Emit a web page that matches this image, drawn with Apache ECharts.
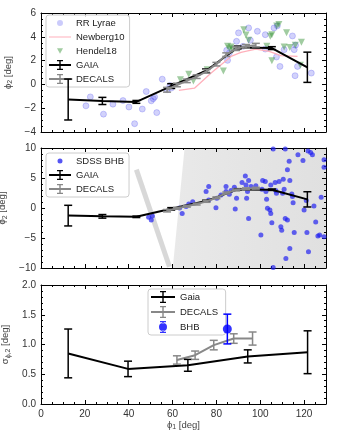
<!DOCTYPE html>
<html>
<head>
<meta charset="utf-8">
<script src="https://cdn.jsdelivr.net/npm/echarts@6/dist/echarts.min.js"></script>
<style>
  html, body { margin: 0; padding: 0; background: #fff; }
  #chart { width: 337px; height: 438px; }
</style>
</head>
<body>
<div id="chart"></div>
<script>
// ---- stream track (panels 1 and 2) ----
const gaiaPhi1 = [12.4, 28.0, 43.5, 59.4, 75.3, 89.7, 105.3, 121.5];
const gaiaPhi2 = [-1.27, -1.39, -1.47, -0.14, 1.15, 3.1, 3.05, 1.44];
const gaiaErr = [1.72, 0.3, 0.12, 0.2, 0.15, 0.12, 0.12, 1.27];

const decalsPhi1 = [57.5, 62, 66.5, 71, 75.5, 80, 84.5, 89, 93.5, 98];
const decalsPhi2 = [-0.45, -0.05, 0.3, 0.65, 1.1, 1.7, 2.5, 3.0, 3.2, 3.3];
const decalsErr = [0.2, 0.15, 0.15, 0.15, 0.15, 0.15, 0.15, 0.15, 0.15, 0.15];

const newbergPhi1 = [62.9, 70, 77.6, 86.7, 91.2, 98, 104.1, 109.4, 117];
const newbergPhi2 = [-0.51, -0.32, 0.95, 2.35, 2.69, 2.97, 2.78, 2.41, 2.35];

const rrLyrae = [[20.5,-1.8],[22.5,-1.05],[28.5,-2.5],[32.8,-1.66],[37.4,-1.36],[40.1,-1.9],
  [42.7,-3.3],[46.2,-2.07],[48.0,-0.6],[50.3,-1.38],[51.2,-1.2],[51.8,-1.05],[52.8,-2.37],
  [55.3,0.44],[57.5,-0.45],[58.8,-0.1],[59.4,-0.31],[84.7,2.86],[85.1,2.02],[85.9,2.64],
  [89.2,3.62],[90.1,4.33],[92.2,3.2],[94.7,4.75],[95.5,3.71],[98.7,4.46],[102.3,4.18],
  [102.3,2.97],[106.3,4.75],[107.8,4.92],[107.4,2.3],[109.0,1.51],[110.9,2.92],[114.7,4.07],
  [116.1,3.3],[115.5,2.92],[115.9,0.73],[117.0,1.51],[123.3,0.95]];

const hendel18 = [[63.6,0.39],[67.4,0.85],[69.5,0.28],[75.8,1.23],[83.2,1.12],[85.1,3.2],
  [86.7,3.15],[87.5,2.9],[92.5,4.6],[93.5,4.15],[94.7,3.7],[105.3,4.18],[104.6,4.05],
  [105.3,1.98],[108.5,5.03],[107.5,4.9],[112,4.33],[110.9,3.15],[113.5,3.1],[116,3.3],
  [118.8,3.55],[118.3,1.6],[103,3.2],[86,3.0]];

const sdssBhb = [[49.1,-1.55],[50.3,-2.0],[50.8,-1.33],[63.2,0.0],[64.4,-0.9],[66.2,0.27],
  [67.4,0.66],[69.2,1.06],[75.3,2.73],[76.5,3.6],[76.5,1.34],[79.8,0.06],[80.2,1.62],
  [82.1,2.17],[84.4,3.58],[84.4,2.73],[85.9,2.29],[86.7,2.9],[88.2,3.46],[88.6,-0.18],
  [89.2,1.62],[91.7,4.24],[93.2,5.35],[93.5,3.85],[94.2,2.73],[93.8,1.62],[94.7,4.58],
  [94.7,-1.73],[95.8,3.58],[98,3.69],[100.8,3.13],[101.1,4.58],[100.3,-4.52],[102.3,4.41],
  [102.6,2.73],[102.9,1.45],[103.3,-0.06],[104.4,-0.34],[104.8,3.85],[104.8,-0.9],
  [105.3,-2.46],[105.9,9.83],[105.9,-9.9],[106.8,4.24],[107.1,2.9],[107.4,2.45],[108.6,4.41],
  [109.4,-3.13],[109.8,-3.69],[110.2,2.45],[110.5,4.8],[110.9,3.13],[111.4,-1.73],[111.4,9.83],
  [111.7,-8.4],[112.4,-2.01],[112.4,6.36],[113.2,7.8],[113.5,4.58],[113.5,-6.76],[114.4,2.34],
  [114.7,1.9],[115,0.89],[115.5,-4.1],[117.2,8.88],[119.5,7.93],[120,-0.34],[121,1.23],
  [121.3,-4.1],[121.8,9.5],[122,-7.31],[123,9.27],[123.8,8.88],[124.5,0.33],[125.3,-2.35],
  [126.3,-4.65],[127.1,-4.52],[127.8,1.78],[129.1,-4.8],[129.1,6.81],[129.1,8.04]];

// survey footprint shading and stripe in panel 2
const footprintPhi1 = [65.5, 130, 130, 60.1];
const footprintPhi2 = [10, 10, -10, -10];
const stripePhi1 = [43.5, 58.6];
const stripePhi2 = [6.4, -9.8];

// ---- track width (panel 3) ----
const gaiaSigPhi1 = [12.4, 39.7, 67, 94.3, 121.6];
const gaiaSig = [0.85, 0.59, 0.65, 0.80, 0.87];
const gaiaSigErr = [0.41, 0.13, 0.1, 0.11, 0.36];

const decalsSigPhi1 = [62, 70.3, 78.8, 87.9, 96.5];
const decalsSig = [0.74, 0.82, 0.99, 1.10, 1.10];
const decalsSigErr = [0.07, 0.07, 0.08, 0.08, 0.11];

const bhbSigPhi1 = [85];
const bhbSig = [1.26];
const bhbSigErr = [0.25];

const zip = (a, b) => a.map((v, i) => [v, b[i]]);
const zip3 = (a, b, c) => a.map((v, i) => [v, b[i], c[i]]);
const minus = v => String(v).replace('-', '\u2212');
const FONT = 'Liberation Sans, Arial, sans-serif';

function errorBars(xi, yi, data, color, lw, cap) {
  return {
    type: 'custom', xAxisIndex: xi, yAxisIndex: yi, data: data, z: 4,
    encode: { x: 0, y: 1 },
    renderItem: function (params, api) {
      const x = api.value(0), y = api.value(1), e = api.value(2);
      const hi = api.coord([x, y + e]);
      const lo = api.coord([x, y - e]);
      const st = { stroke: color, lineWidth: lw };
      return {
        type: 'group', children: [
          { type: 'line', shape: { x1: hi[0], y1: hi[1], x2: lo[0], y2: lo[1] }, style: st },
          { type: 'line', shape: { x1: hi[0] - cap, y1: hi[1], x2: hi[0] + cap, y2: hi[1] }, style: st },
          { type: 'line', shape: { x1: lo[0] - cap, y1: lo[1], x2: lo[0] + cap, y2: lo[1] }, style: st }
        ]
      };
    }
  };
}

function lineSeries(name, xi, yi, data, color, width, z) {
  return {
    name: name, type: 'line', xAxisIndex: xi, yAxisIndex: yi, data: data,
    symbol: 'none', color: color, z: z,
    lineStyle: { color: color, width: width }, itemStyle: { color: color }
  };
}

const tickStyle = { color: '#000', width: 1 };
const nameStyle = { fontFamily: FONT, fontSize: 9.5, color: '#444',
  rich: { b: { fontFamily: FONT, fontSize: 7, color: '#444', padding: [4, 0, 0, 0] } } };

function xAxis(g, pos, labels, name) {
  return {
    type: 'value', gridIndex: g, position: pos, min: 0, max: 130, interval: 20,
    axisLine: { show: true, onZero: false, lineStyle: tickStyle },
    axisTick: { show: true, inside: true, length: 4, lineStyle: tickStyle },
    minorTick: { show: true, splitNumber: 4, length: 2, lineStyle: tickStyle },
    splitLine: { show: false },
    axisLabel: { show: labels, fontFamily: FONT, fontSize: 10, color: '#333', margin: 5, showMaxLabel: false },
    name: name || '', nameLocation: 'middle', nameGap: 15, nameTextStyle: nameStyle
  };
}
function yAxis(g, pos, min, max, interval, minor, labels, name, fmt) {
  return {
    type: 'value', gridIndex: g, position: pos, min: min, max: max, interval: interval,
    axisLine: { show: true, onZero: false, lineStyle: tickStyle },
    axisTick: { show: true, inside: true, length: 4, lineStyle: tickStyle },
    minorTick: { show: true, splitNumber: minor, length: 2, lineStyle: tickStyle },
    splitLine: { show: false },
    axisLabel: { show: labels, fontFamily: FONT, fontSize: 10, color: '#333', margin: 5, formatter: fmt || minus },
    name: name || '', nameLocation: 'middle', nameRotate: 90, nameGap: 26, nameTextStyle: nameStyle
  };
}

// legend glyphs (tiny corner dots fix the bounding box)
const box = 'M0,0h0.05v0.05h-0.05z M21.95,9.95h0.05v0.05h-0.05z ';
const box3 = 'M0,0h0.05v0.05h-0.05z M23.95,11.95h0.05v0.05h-0.05z ';
const iconDot = 'path://' + box + 'M14,5a3,3 0 1,0 -6,0a3,3 0 1,0 6,0z';
const iconBhbDot = 'path://' + box + 'M13.5,5a2.5,2.5 0 1,0 -5,0a2.5,2.5 0 1,0 5,0z';
const iconLine = 'path://' + box + 'M0,4.4h22v1.2h-22z';
const iconTri = 'path://' + box + 'M8,2.2L14,2.2L11,7.8z';
const iconErr = 'path://' + box + 'M0,4h22v2h-22z M10.3,0h1.4v10h-1.4z M8,0h6v1.3h-6z M8,8.7h6v1.3h-6z';
const iconErr3 = 'path://' + box3 + 'M0,5h24v2h-24z M11.3,0h1.4v12h-1.4z M9,0h6v1.3h-6z M9,10.7h6v1.3h-6z';
const iconBhb3 = 'path://' + box3 + 'M11.3,0h1.4v2.5h-1.4z M11.3,9.5h1.4v2.5h-1.4z M9,0h6v1.3h-6z M9,10.7h6v1.3h-6z M16,6a4,4 0 1,0 -8,0a4,4 0 1,0 8,0z';

const legendBase = {
  orient: 'vertical', selectedMode: false, itemWidth: 22, itemHeight: 10, itemGap: 4,
  padding: [3, 5, 3, 3], borderColor: '#ccc', borderWidth: 1, borderRadius: 3,
  backgroundColor: 'rgba(255,255,255,0.85)', itemStyle: { borderWidth: 0 },
  textStyle: { fontFamily: FONT, fontSize: 9.5, color: '#222' }
};

const chart = echarts.init(document.getElementById('chart'));
chart.setOption({
  animation: false,
  grid: [
    { left: 41, top: 13, width: 285, height: 119, outerBoundsMode: 'none', containLabel: false },
    { left: 41, top: 148, width: 285, height: 120, outerBoundsMode: 'none', containLabel: false },
    { left: 41, top: 285, width: 285, height: 119, outerBoundsMode: 'none', containLabel: false }
  ],
  xAxis: [
    xAxis(0, 'bottom', false), xAxis(0, 'top', false),
    xAxis(1, 'bottom', false), xAxis(1, 'top', false),
    xAxis(2, 'bottom', true, '{a|ϕ}{b|1} [deg]'), xAxis(2, 'top', false)
  ],
  yAxis: [
    yAxis(0, 'left', -4, 6, 2, 4, true, '{a|ϕ}{b|2} [deg]'), yAxis(0, 'right', -4, 6, 2, 4, false),
    yAxis(1, 'left', -10, 10, 5, 5, true, '{a|ϕ}{b|2} [deg]'), yAxis(1, 'right', -10, 10, 5, 5, false),
    yAxis(2, 'left', 0, 2, 0.5, 5, true, '{a|σ}{b|ϕ,2} [deg]', v => v.toFixed(1)),
    yAxis(2, 'right', 0, 2, 0.5, 5, false)
  ],
  legend: [
    Object.assign({}, legendBase, {
      left: 46, top: 15,
      data: [
        { name: 'RR Lyrae', icon: iconDot, itemStyle: { color: 'rgba(70,70,240,0.35)' } },
        { name: 'Newberg10', icon: iconLine, itemStyle: { color: '#ffb0bb' } },
        { name: 'Hendel18', icon: iconTri, itemStyle: { color: 'rgba(40,140,40,0.55)' } },
        { name: 'GAIA', icon: iconErr, itemStyle: { color: '#000' } },
        { name: 'DECALS', icon: iconErr, itemStyle: { color: '#888' } }
      ]
    }),
    Object.assign({}, legendBase, {
      left: 46, top: 153,
      data: [
        { name: 'SDSS BHB', icon: iconBhbDot, itemStyle: { color: '#2a2af0' } },
        { name: 'GAIA', icon: iconErr, itemStyle: { color: '#000' } },
        { name: 'DECALS', icon: iconErr, itemStyle: { color: '#888' } }
      ]
    }),
    Object.assign({}, legendBase, {
      left: 148, top: 289, itemWidth: 24, itemHeight: 12, itemGap: 3, padding: [2, 5, 2, 3],
      data: [
        { name: 'Gaia', icon: iconErr3, itemStyle: { color: '#000' } },
        { name: 'DECALS ', icon: iconErr3, itemStyle: { color: '#888' } },
        { name: 'BHB', icon: iconBhb3, itemStyle: { color: '#0000ff' } }
      ]
    })
  ],
  series: [
    // panel 1
    { name: 'RR Lyrae', type: 'scatter', xAxisIndex: 0, yAxisIndex: 0, data: rrLyrae, symbolSize: 6, z: 1,
      itemStyle: { color: 'rgba(70,70,240,0.3)', borderColor: 'rgba(70,70,240,0.4)', borderWidth: 0.8 } },
    lineSeries('Newberg10', 0, 0, zip(newbergPhi1, newbergPhi2), '#ffb0bb', 1.3, 2),
    { name: 'Hendel18', type: 'scatter', xAxisIndex: 0, yAxisIndex: 0, data: hendel18, symbol: 'triangle',
      symbolRotate: 180, symbolSize: 7, z: 2, itemStyle: { color: 'rgba(40,140,40,0.55)' } },
    lineSeries('GAIA', 0, 0, zip(gaiaPhi1, gaiaPhi2), '#000', 2, 3),
    errorBars(0, 0, zip3(gaiaPhi1, gaiaPhi2, gaiaErr), '#000', 1.5, 4),
    lineSeries('DECALS', 0, 0, zip(decalsPhi1, decalsPhi2), '#888', 2, 5),
    errorBars(0, 0, zip3(decalsPhi1, decalsPhi2, decalsErr), '#888', 1.5, 4),

    // panel 2
    { type: 'custom', xAxisIndex: 2, yAxisIndex: 2, data: [[footprintPhi1[0], footprintPhi2[0]]],
      encode: { x: 0, y: 1 }, z: 0,
      renderItem: function (params, api) {
        const pts = footprintPhi1.map((p, i) => api.coord([p, footprintPhi2[i]]));
        return { type: 'polygon', shape: { points: pts },
          style: { fill: new echarts.graphic.LinearGradient(0, 0, 1, 0,
            [{ offset: 0, color: '#e9e9e9' }, { offset: 1, color: '#e0e0e0' }]) } };
      } },
    { type: 'line', xAxisIndex: 2, yAxisIndex: 2, data: zip(stripePhi1, stripePhi2), symbol: 'none', z: 0,
      lineStyle: { color: 'rgba(200,200,200,0.7)', width: 5 } },
    { name: 'SDSS BHB', type: 'scatter', xAxisIndex: 2, yAxisIndex: 2, data: sdssBhb, symbolSize: 5, z: 2,
      itemStyle: { color: 'rgba(30,30,240,0.85)' } },
    lineSeries('GAIA', 2, 2, zip(gaiaPhi1, gaiaPhi2), '#000', 2, 3),
    errorBars(2, 2, zip3(gaiaPhi1, gaiaPhi2, gaiaErr), '#000', 1.5, 4),
    lineSeries('DECALS', 2, 2, zip(decalsPhi1, decalsPhi2), '#888', 2, 5),
    errorBars(2, 2, zip3(decalsPhi1, decalsPhi2, decalsErr), '#888', 1.5, 4),

    // panel 3
    lineSeries('Gaia', 4, 4, zip(gaiaSigPhi1, gaiaSig), '#000', 2, 3),
    errorBars(4, 4, zip3(gaiaSigPhi1, gaiaSig, gaiaSigErr), '#000', 1.5, 4),
    lineSeries('DECALS ', 4, 4, zip(decalsSigPhi1, decalsSig), '#888', 2, 3),
    errorBars(4, 4, zip3(decalsSigPhi1, decalsSig, decalsSigErr), '#888', 1.5, 4),
    { name: 'BHB', type: 'scatter', xAxisIndex: 4, yAxisIndex: 4, data: zip(bhbSigPhi1, bhbSig), symbolSize: 9, z: 5,
      itemStyle: { color: '#0000ff' } },
    errorBars(4, 4, zip3(bhbSigPhi1, bhbSig, bhbSigErr), '#0000ff', 1.5, 4)
  ]
});
</script>
</body>
</html>
